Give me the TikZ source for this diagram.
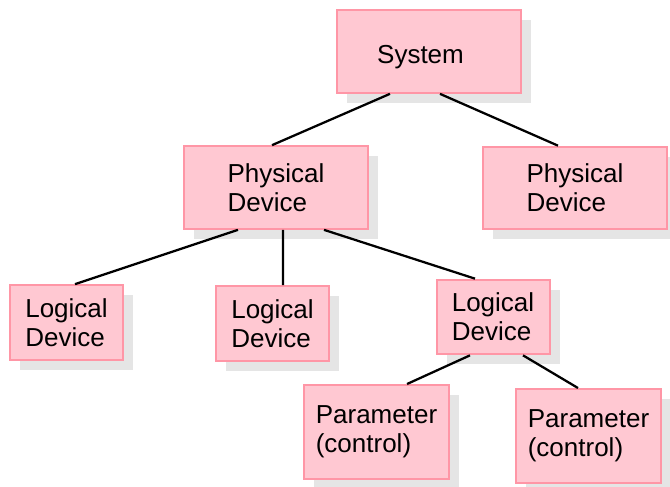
\documentclass[tikz,border=0pt]{standalone}
\usepackage{fontspec}
\setmainfont{Liberation Sans}
\usetikzlibrary{positioning,shadows}
\definecolor{boxfill}{RGB}{255,200,210}
\definecolor{boxline}{RGB}{255,150,166}
\definecolor{shadowgray}{RGB}{229,229,229}
\begin{document}
\begin{tikzpicture}[x=0.75pt, y=-0.75pt]
\tikzset{
    mybox/.style={rectangle, draw=boxline, fill=boxfill, line width=1.5pt, align=left, inner sep=0pt,
        font=\fontsize{19.5}{22}\selectfont,
        drop shadow={shadow xshift=7.5pt, shadow yshift=-7.5pt, fill=shadowgray, opacity=1}},
    bigbox/.style={mybox, minimum width=138pt, minimum height=62pt},
    smallbox/.style={mybox, minimum width=84.75pt, minimum height=56pt},
    parbox/.style={mybox, minimum width=108.75pt, minimum height=70.5pt},
    myline/.style={line width=1.7pt, black}
}
\useasboundingbox (0,0) rectangle (670,486);
\node[bigbox, text height=22pt] (system) at (428.5,51.5) {System\hspace{12pt}};
\node[bigbox] (physleft) at (276,187.5) {Physical\\Device};
\node[bigbox] (physright) at (575,188) {Physical\\Device\hspace{10pt}};
\node[smallbox] (logone) at (66.5,322.5) {Logical\\Device};
\node[smallbox] (logtwo) at (272.5,323.5) {Logical\\Device};
\node[smallbox] (logthree) at (493,317) {Logical\\Device};
\node[parbox] (parone) at (376.5,432) {Parameter\\(control)};
\node[parbox] (partwo) at (588.5,436) {Parameter\\(control)};

\draw[myline] ([xshift=-28.9pt]system.south) -- ([xshift=-3pt]physleft.north);
\draw[myline] ([xshift=8.6pt]system.south) -- ([xshift=-12.75pt]physright.north);
\draw[myline] ([xshift=-28.5pt]physleft.south) -- ([xshift=6.4pt]logone.north);
\draw[myline] ([xshift=5.25pt]physleft.south) -- ([xshift=7.9pt]logtwo.north);
\draw[myline] ([xshift=36pt]physleft.south) -- ([xshift=-13.5pt]logthree.north);
\draw[myline] ([xshift=-17.25pt]logthree.south) -- ([xshift=22.9pt]parone.north);
\draw[myline] ([xshift=22.5pt]logthree.south) -- ([xshift=-7.9pt]partwo.north);
\end{tikzpicture}
\end{document}
